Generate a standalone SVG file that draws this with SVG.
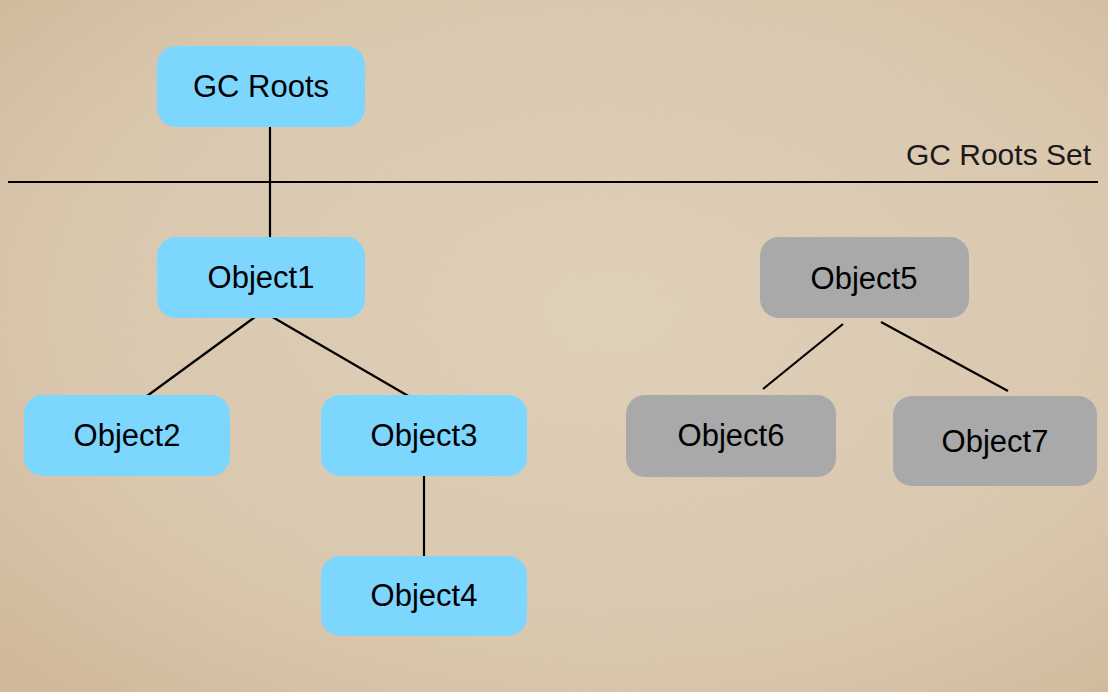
<svg xmlns="http://www.w3.org/2000/svg" width="1108" height="692" viewBox="0 0 1108 692">
<style>
.live{fill:#7DD6FE}
.dead{fill:#A8A9A8}
.lbl{font-family:"Liberation Sans",Arial,Helvetica,sans-serif;font-size:31px;fill:#000;text-anchor:middle}
.set{font-family:"Liberation Sans",Arial,Helvetica,sans-serif;font-size:30px;fill:#1a1a1a;text-anchor:end}
.con line{stroke:#000;stroke-width:2.2;stroke-linecap:butt}
</style>
<defs>
<radialGradient id="bg" cx="55%" cy="45%" r="75%">
<stop offset="0" stop-color="#E2D3BD"/>
<stop offset="0.65" stop-color="#DCCAB1"/>
<stop offset="1" stop-color="#D2BA9B"/>
</radialGradient>
<filter id="noise" x="0" y="0" width="100%" height="100%">
<feTurbulence type="fractalNoise" baseFrequency="0.9" numOctaves="2" seed="3"/>
<feColorMatrix type="matrix" values="0 0 0 0 0.45  0 0 0 0 0.35  0 0 0 0 0.22  0 0 0 0.12 0"/>
</filter>
</defs>
<rect width="1108" height="692" fill="url(#bg)"/>
<rect width="1108" height="692" filter="url(#noise)"/>
<g id="connectors" class="con">
<line x1="270" y1="127" x2="270" y2="237"/>
<line x1="8" y1="182" x2="1098" y2="182"/>
<line x1="255" y1="317" x2="147" y2="396"/>
<line x1="269" y1="315" x2="410" y2="397"/>
<line x1="424" y1="472" x2="424" y2="556"/>
<line x1="843" y1="324" x2="763" y2="389"/>
<line x1="881" y1="322" x2="1008" y2="391"/>
</g>
<g id="gcroots"><rect class="live" x="157" y="46" width="208" height="81" rx="19"/><text class="lbl" x="261" y="97">GC Roots</text></g>
<g id="gcrootsset"><text class="set" x="1091" y="165">GC Roots Set</text></g>
<g id="object1"><rect class="live" x="157" y="237" width="208" height="81" rx="19"/><text class="lbl" x="261" y="288">Object1</text></g>
<g id="object2"><rect class="live" x="24" y="395" width="206" height="81" rx="19"/><text class="lbl" x="127" y="446">Object2</text></g>
<g id="object3"><rect class="live" x="321" y="395" width="206" height="81" rx="19"/><text class="lbl" x="424" y="446">Object3</text></g>
<g id="object4"><rect class="live" x="321" y="556" width="206" height="80" rx="19"/><text class="lbl" x="424" y="606">Object4</text></g>
<g id="object5"><rect class="dead" x="760" y="237" width="209" height="81" rx="19"/><text class="lbl" x="864" y="289">Object5</text></g>
<g id="object6"><rect class="dead" x="626" y="395" width="210" height="82" rx="19"/><text class="lbl" x="731" y="446">Object6</text></g>
<g id="object7"><rect class="dead" x="893" y="396" width="204" height="90" rx="19"/><text class="lbl" x="995" y="452">Object7</text></g>
</svg>
